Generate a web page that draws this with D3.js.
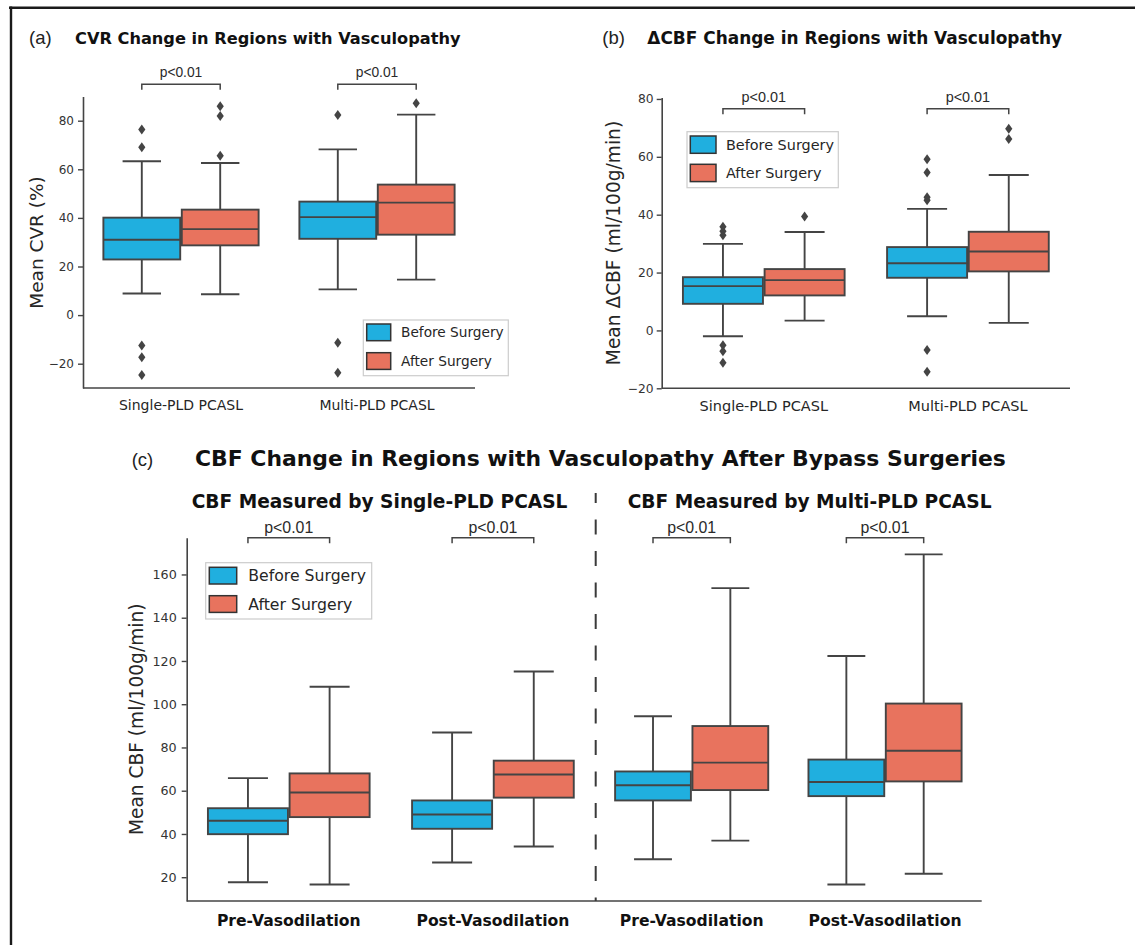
<!DOCTYPE html>
<html><head><meta charset="utf-8">
<script src="https://cdn.jsdelivr.net/npm/d3@7"></script>
<style>body{margin:0;background:#fff} svg{display:block}</style>
</head><body><svg id="chart" width="1135" height="945"></svg>
<script>
// ---------------- data ----------------
const groupLabels = ["Before Surgery", "After Surgery"];
const pLabel = "p<0.01";

// Box stats: [lower whisker, Q1, median, Q3, upper whisker]
const cvrCategories = ["Single-PLD PCASL", "Multi-PLD PCASL"];
const cvrBefore = [[8.9, 22.9, 31.0, 40.1, 63.3], [10.6, 31.4, 40.3, 46.7, 68.2]];
const cvrAfter = [[8.6, 28.7, 35.4, 43.4, 62.6], [14.6, 33.1, 46.3, 53.7, 82.5]];
const cvrBeforeOutliers = [[76.4, 69.1, -12.5, -17.3, -24.7], [82.3, -11.4, -23.7]];
const cvrAfterOutliers = [[85.9, 81.9, 65.6], [87.2]];
const cvrTicks = [-20, 0, 20, 40, 60, 80];

const dcbfCategories = ["Single-PLD PCASL", "Multi-PLD PCASL"];
const dcbfBefore = [[-2.0, 9.2, 15.3, 18.4, 29.9], [4.9, 18.2, 23.2, 28.8, 42.0]];
const dcbfAfter = [[3.4, 12.1, 17.4, 21.2, 34.0], [2.6, 20.4, 27.3, 34.1, 53.7]];
const dcbfBeforeOutliers = [[35.8, 34.3, 32.9, -5.1, -7.2, -11.2], [59.2, 54.6, 46.0, 45.0, -6.8, -14.3]];
const dcbfAfterOutliers = [[39.4], [69.7, 66.2]];
const dcbfTicks = [-20, 0, 20, 40, 60, 80];

const cbfCategories = ["Pre-Vasodilation", "Post-Vasodilation"];
const cbfSingleBefore = [[17.7, 39.9, 46.1, 51.9, 65.8], [26.8, 42.4, 49.0, 55.5, 86.9]];
const cbfSingleAfter = [[16.6, 47.8, 59.2, 68.0, 108.1], [34.2, 56.8, 67.5, 73.9, 115.1]];
const cbfMultiBefore = [[28.3, 55.5, 62.5, 68.9, 94.4], [16.6, 57.5, 64.0, 74.4, 122.3]];
const cbfMultiAfter = [[36.9, 60.3, 73.0, 89.9, 153.7], [21.6, 64.3, 78.5, 100.3, 169.3]];
const cbfTicks = [20, 40, 60, 80, 100, 120, 140, 160];

// ---------------- style ----------------
const colors = ["#20afdf", "#e8735e"];
const lineCol = "#444444";
const textCol = "#262626";
const sans = "'DejaVu Sans', sans-serif";
const arial = "'Liberation Sans', Arial, sans-serif";

const svg = d3.select("#chart");
svg.append("rect").attr("width", 1135).attr("height", 945).attr("fill", "#fff");

// outer frame (top and left)
svg.append("line").attr("x1", 9).attr("x2", 1135).attr("y1", 7.8).attr("y2", 7.8)
  .attr("stroke", "#1a1a1a").attr("stroke-width", 2.4);
svg.append("line").attr("x1", 11).attr("x2", 11).attr("y1", 6.6).attr("y2", 945)
  .attr("stroke", "#1a1a1a").attr("stroke-width", 2.4);

function text(x, y, s, opt) {
  const t = svg.append("text").attr("x", x).attr("y", y).text(s)
    .attr("fill", opt.fill || textCol)
    .attr("font-family", opt.family || sans)
    .attr("font-size", opt.size)
    .attr("font-weight", opt.weight || "normal")
    .attr("text-anchor", opt.anchor || "start");
  if (opt.rotate) t.attr("transform", `rotate(-90,${x},${y})`);
  return t;
}

function diamond(g, cx, cy) {
  g.append("path")
    .attr("d", `M${cx},${cy - 5}L${cx + 3.6},${cy}L${cx},${cy + 5}L${cx - 3.6},${cy}Z`)
    .attr("fill", lineCol);
}

function drawBoxes(g, x, y, cats, before, after, outB, outA) {
  const bw = x.bandwidth();
  const w = bw * 0.4 * 0.98;
  cats.forEach((c, i) => {
    const cc = x(c) + bw / 2;
    [[before[i], outB[i]], [after[i], outA[i]]].forEach(([s, outs], h) => {
      const bc = cc + (h === 0 ? -1 : 1) * bw * 0.2;
      const [lo, q1, med, q3, hi] = s;
      // whiskers
      g.append("line").attr("x1", bc).attr("x2", bc).attr("y1", y(q3)).attr("y2", y(hi))
        .attr("stroke", lineCol).attr("stroke-width", 1.9);
      g.append("line").attr("x1", bc).attr("x2", bc).attr("y1", y(q1)).attr("y2", y(lo))
        .attr("stroke", lineCol).attr("stroke-width", 1.9);
      [lo, hi].forEach(v => g.append("line").attr("x1", bc - w / 4).attr("x2", bc + w / 4)
        .attr("y1", y(v)).attr("y2", y(v)).attr("stroke", lineCol).attr("stroke-width", 1.9));
      g.append("rect").attr("x", bc - w / 2).attr("width", w)
        .attr("y", y(q3)).attr("height", y(q1) - y(q3))
        .attr("fill", colors[h]).attr("stroke", lineCol).attr("stroke-width", 1.9);
      g.append("line").attr("x1", bc - w / 2).attr("x2", bc + w / 2)
        .attr("y1", y(med)).attr("y2", y(med)).attr("stroke", lineCol).attr("stroke-width", 1.9);
      outs.forEach(v => diamond(g, bc, y(v)));
    });
  });
}

function yAxis(x0, y, ticks, size, pad) {
  const g = svg.append("g").attr("transform", `translate(${x0},0)`)
    .call(d3.axisLeft(y).tickValues(ticks).tickSize(5).tickSizeOuter(0).tickPadding(pad));
  g.select(".domain").attr("stroke", lineCol).attr("stroke-width", 1.6);
  g.selectAll(".tick line").attr("stroke", lineCol).attr("stroke-width", 1.4);
  g.selectAll(".tick text").attr("fill", "#333").attr("font-family", sans).attr("font-size", size);
  return g;
}

function xLine(x0, x1, yb) {
  svg.append("line").attr("x1", x0).attr("x2", x1).attr("y1", yb).attr("y2", yb)
    .attr("stroke", lineCol).attr("stroke-width", 1.6);
}

function bracket(x, cat, yb, ty, size) {
  const bw = x.bandwidth();
  const cc = x(cat) + bw / 2;
  const a = cc - bw * 0.2, b = cc + bw * 0.2;
  svg.append("path").attr("d", `M${a},${yb + 5.5}V${yb}H${b}V${yb + 5.5}`)
    .attr("fill", "none").attr("stroke", lineCol).attr("stroke-width", 1.5);
  text(cc, ty, pLabel, { size: size, family: arial, anchor: "middle", fill: "#2a2a2a" });
}

function legend(x0, y0, w, h, px, pw, ph, py, tx, ty, size) {
  svg.append("rect").attr("x", x0).attr("y", y0).attr("width", w).attr("height", h)
    .attr("fill", "#fff").attr("stroke", "#cccccc").attr("stroke-width", 1.2);
  groupLabels.forEach((lab, i) => {
    svg.append("rect").attr("x", px).attr("y", py[i]).attr("width", pw).attr("height", ph)
      .attr("fill", colors[i]).attr("stroke", "#333").attr("stroke-width", 1.5);
    text(tx, ty[i], lab, { size: size, fill: "#262626" });
  });
}

// ---------------- Panel (a) ----------------
{
  const x = d3.scaleBand().domain(cvrCategories).range([83, 475]).padding(0);
  const y = d3.scaleLinear().domain([-30, 90]).range([388, 96.4]);
  const g = svg.append("g");
  drawBoxes(g, x, y, cvrCategories, cvrBefore, cvrAfter, cvrBeforeOutliers, cvrAfterOutliers);
  yAxis(83, y, cvrTicks, 12, 4);
  xLine(83, 475, 388);
  cvrCategories.forEach(c => text(x(c) + x.bandwidth() / 2, 410, c, { size: 14, anchor: "middle" }));
  text(43, 242.5, "Mean CVR (%)", { size: 18.5, anchor: "middle", rotate: true });
  cvrCategories.forEach(c => bracket(x, c, 84.3, 77.3, 13.8));
  text(29, 43.5, "(a)", { size: 18.5, family: arial, fill: "#222" });
  text(75, 43.5, "CVR Change in Regions with Vasculopathy", { size: 16.2, weight: "bold", fill: "#111" });
  legend(363.3, 320, 145, 55.7, 366.7, 24, 16.7, [324, 352.7], 401, [337.2, 366], 13.7);
}

// ---------------- Panel (b) ----------------
{
  const x = d3.scaleBand().domain(dcbfCategories).range([661.7, 1070]).padding(0);
  const y = d3.scaleLinear().domain([-20, 80.5]).range([388.3, 97.5]);
  const g = svg.append("g");
  drawBoxes(g, x, y, dcbfCategories, dcbfBefore, dcbfAfter, dcbfBeforeOutliers, dcbfAfterOutliers);
  yAxis(661.7, y, dcbfTicks, 12.3, 3);
  xLine(661.7, 1070, 388.3);
  dcbfCategories.forEach(c => text(x(c) + x.bandwidth() / 2, 410.7, c, { size: 14.5, anchor: "middle" }));
  text(620, 243, "Mean \u0394CBF (ml/100g/min)", { size: 18.6, anchor: "middle", rotate: true });
  dcbfCategories.forEach(c => bracket(x, c, 108.7, 101.7, 14.4));
  text(602.3, 43.5, "(b)", { size: 18.5, family: arial, fill: "#222" });
  text(647.3, 43.5, "\u0394CBF Change in Regions with Vasculopathy", { size: 16.95, weight: "bold", fill: "#111" });
  legend(687, 131.7, 151.3, 56, 690.3, 25.7, 17.3, [136, 164.3], 726, [150, 178.3], 14.4);
}

// ---------------- Panel (c) ----------------
{
  const y = d3.scaleLinear().domain([9, 177]).range([901, 537.7]);
  const xl = d3.scaleBand().domain(cbfCategories).range([186.7, 595]).padding(0);
  const xr = d3.scaleBand().domain(cbfCategories).range([595, 981.7]).padding(0);
  const g = svg.append("g");
  drawBoxes(g, xl, y, cbfCategories, cbfSingleBefore, cbfSingleAfter, [[], []], [[], []]);
  drawBoxes(g, xr, y, cbfCategories, cbfMultiBefore, cbfMultiAfter, [[], []], [[], []]);
  yAxis(186.7, y, cbfTicks, 12.7, 5);
  xLine(186.7, 981.7, 901);
  svg.append("line").attr("x1", 595.7).attr("x2", 595.7).attr("y1", 493).attr("y2", 901)
    .attr("stroke", "#3a3a3a").attr("stroke-width", 2).attr("stroke-dasharray", "15,16.5")
    .attr("stroke-dashoffset", 5);
  [xl, xr].forEach(x => cbfCategories.forEach(c =>
    text(x(c) + x.bandwidth() / 2, 926, c, { size: 15.6, weight: "bold", anchor: "middle", fill: "#111" })));
  text(143, 719.3, "Mean CBF (ml/100g/min)", { size: 18.6, anchor: "middle", rotate: true });
  [xl, xr].forEach(x => cbfCategories.forEach(c => bracket(x, c, 537.7, 532.7, 15.9)));
  text(131.7, 466, "(c)", { size: 18.5, family: arial, fill: "#222" });
  text(195, 466, "CBF Change in Regions with Vasculopathy After Bypass Surgeries", { size: 21.9, weight: "bold", fill: "#111" });
  text(191.7, 507.7, "CBF Measured by Single-PLD PCASL", { size: 18.6, weight: "bold", fill: "#111" });
  text(627.7, 507.7, "CBF Measured by Multi-PLD PCASL", { size: 18.6, weight: "bold", fill: "#111" });
  legend(205.7, 562.7, 166, 56.3, 209.3, 27.4, 16.7, [567.3, 595.7], 248.3, [581.4, 609.7], 15.7);
}
</script>
</body></html>
